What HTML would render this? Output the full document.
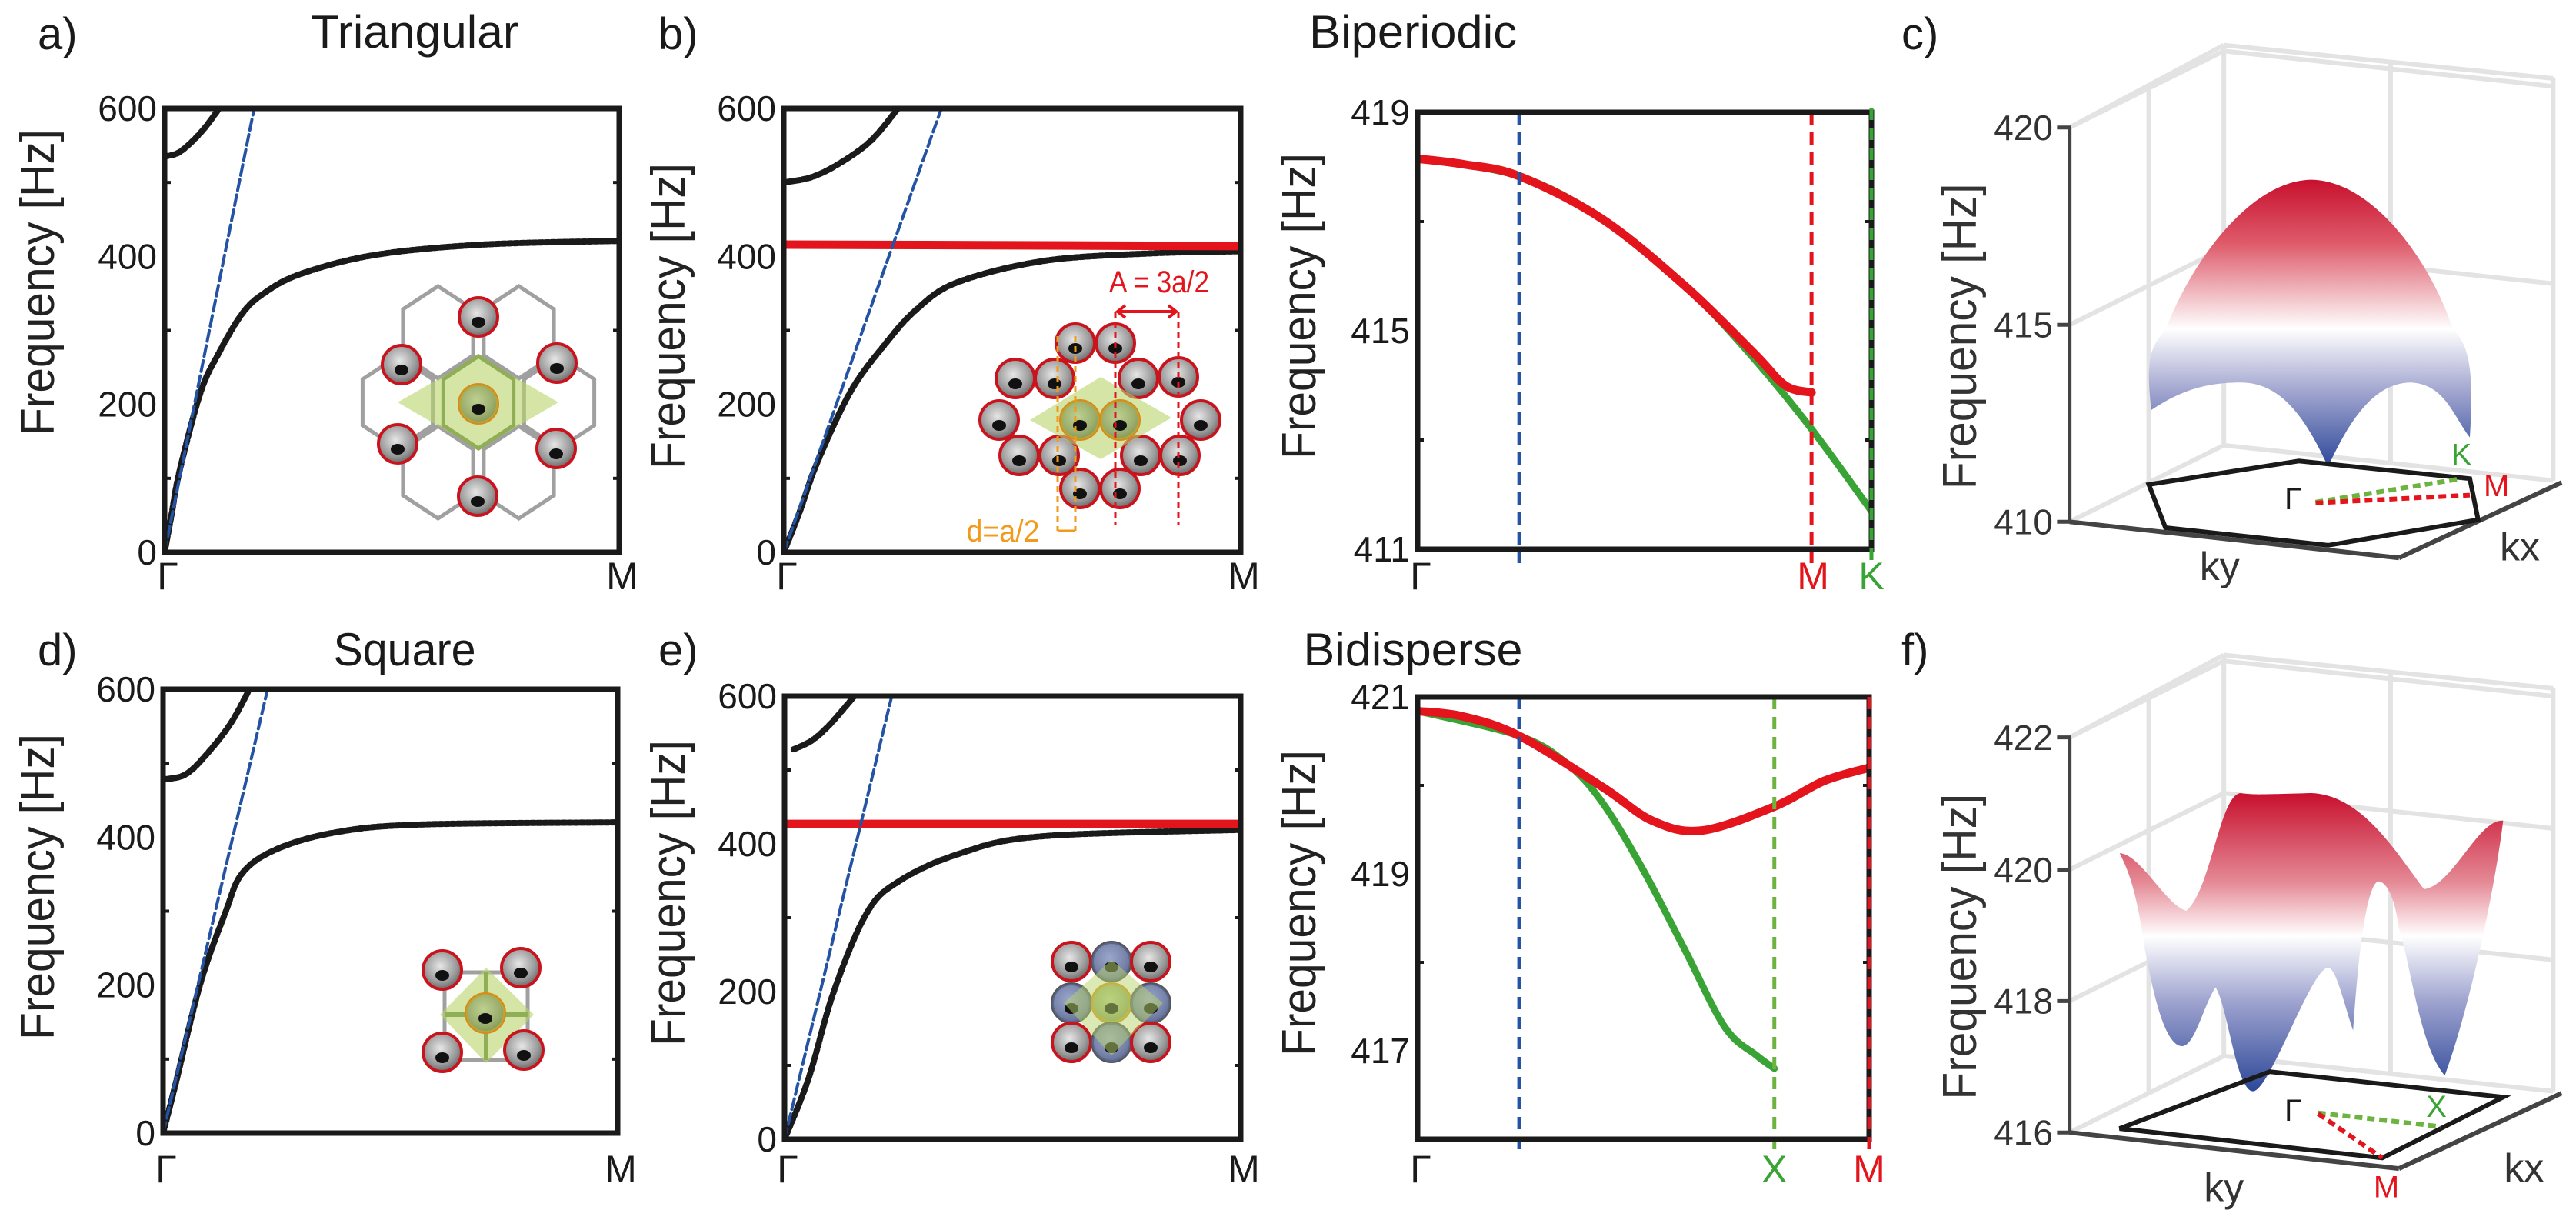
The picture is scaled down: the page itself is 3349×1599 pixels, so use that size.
<!DOCTYPE html>
<html><head><meta charset="utf-8"><style>
html,body{margin:0;padding:0;background:#fff;}
svg{display:block;font-family:"Liberation Sans",sans-serif;}
</style></head><body>
<svg id="fig" width="3349" height="1599" viewBox="0 0 3349 1599" xmlns="http://www.w3.org/2000/svg">
<defs>
<linearGradient id="gradC" gradientUnits="userSpaceOnUse" x1="0" y1="458" x2="0" y2="1190">
<stop offset="0" stop-color="#c8102e"/><stop offset="0.22" stop-color="#de5a6a"/><stop offset="0.42" stop-color="#f3c8cd"/><stop offset="0.52" stop-color="#ffffff"/><stop offset="0.72" stop-color="#a9acd3"/><stop offset="1" stop-color="#2d4899"/></linearGradient>
<linearGradient id="gradF" gradientUnits="userSpaceOnUse" x1="0" y1="455" x2="0" y2="1215">
<stop offset="0" stop-color="#c8102e"/><stop offset="0.3" stop-color="#e58a96"/><stop offset="0.48" stop-color="#ffffff"/><stop offset="0.7" stop-color="#9ea3cf"/><stop offset="1" stop-color="#2d4899"/></linearGradient>
<radialGradient id="can" cx="0.45" cy="0.4" r="0.6"><stop offset="0" stop-color="#e6e6e6"/><stop offset="0.7" stop-color="#9a9a9a"/><stop offset="1" stop-color="#6b6b6b"/></radialGradient>
</defs>
<g id="root"></g>
</svg>
<script>
// ---------- DATA ----------
// panel a (triangular)
const aBand1X = [0, 0.015, 0.033, 0.079, 0.119, 0.17, 0.216, 0.298, 0.463, 0.7, 1];
const aBand1Y = [0, 50, 110, 216, 269, 322, 349, 376, 402, 416, 421];
const aBand2X = [0, 0.03, 0.06, 0.09, 0.12];
const aBand2Y = [535, 540, 555, 575, 600];
const aSoundX = [0, 0.197];
const aSoundY = [0, 600];
// panel b (biperiodic)
const bBand1X = [0, 0.035, 0.073, 0.146, 0.22, 0.29, 0.38, 0.57, 0.8, 1];
const bBand1Y = [0, 55, 121, 217, 280, 328, 365, 394, 404, 407];
const bBand2X = [0, 0.06, 0.12, 0.19, 0.25];
const bBand2Y = [500, 507, 525, 556, 600];
const bFlatX = [0, 0.5, 1];
const bFlatY = [416, 415, 414];
const bSoundX = [0, 0.345];
const bSoundY = [0, 600];
// panel b zoom
const b2RedX = [0, 0.1, 0.224, 0.408, 0.592, 0.74, 0.81, 0.868];
const b2RedY = [418.15, 418.05, 417.83, 417.04, 415.8, 414.6, 414.0, 413.87];
const b2GreenX = [0, 0.224, 0.408, 0.592, 0.74, 0.868, 1];
const b2GreenY = [418.15, 417.83, 417.04, 415.8, 414.5, 413.2, 411.7];
const b2Ticks = [411, 415, 419];
// panel d (square)
const dBand1X = [0, 0.027, 0.082, 0.137, 0.174, 0.247, 0.375, 0.56, 1];
const dBand1Y = [0, 65, 202, 298, 351, 383, 406, 417, 420];
const dBand2X = [0, 0.05, 0.1, 0.15, 0.19];
const dBand2Y = [478, 485, 515, 555, 600];
const dSoundX = [0, 0.23];
const dSoundY = [0, 600];
// panel e (bidisperse)
const eBand1X = [0, 0.053, 0.108, 0.18, 0.25, 0.38, 0.56, 1];
const eBand1Y = [0, 83, 200, 306, 349, 386, 410, 419];
const eBand2X = [0.02, 0.06, 0.1, 0.153];
const eBand2Y = [528, 540, 562, 600];
const eFlatX = [0, 1];
const eFlatY = [427, 427];
const eSoundX = [0, 0.235];
const eSoundY = [0, 600];
// panel e zoom
const e2RedX = [0, 0.1, 0.225, 0.41, 0.52, 0.63, 0.79, 0.9, 1];
const e2RedY = [420.84, 420.78, 420.56, 419.98, 419.6, 419.49, 419.76, 420.05, 420.2];
const e2GreenX = [0, 0.225, 0.33, 0.41, 0.5, 0.59, 0.68, 0.75, 0.79];
const e2GreenY = [420.84, 420.56, 420.25, 419.8, 419.04, 418.16, 417.27, 416.95, 416.8];
const e2Ticks = [417, 419, 421];
const mainTicks = [0, 200, 400, 600];

// ---------- HELPERS ----------
const NS = "http://www.w3.org/2000/svg";
const root = document.getElementById("root");
function mk(tag, attrs, parent) {
  const e = document.createElementNS(NS, tag);
  for (const k in attrs) e.setAttribute(k, attrs[k]);
  (parent || root).appendChild(e);
  return e;
}
function txt(s, x, y, size, attrs, parent) {
  const t = mk("text", Object.assign({x: x, y: y, "font-size": size, fill: "#1a1a1a"}, attrs || {}), parent);
  t.textContent = s;
  return t;
}
function smooth(pts) {
  if (pts.length < 3) return "M" + pts.map(p => p.join(",")).join(" L");
  let d = "M" + pts[0][0] + "," + pts[0][1];
  for (let i = 0; i < pts.length - 1; i++) {
    const p0 = pts[i - 1] || pts[i], p1 = pts[i], p2 = pts[i + 1], p3 = pts[i + 2] || p2;
    const c1 = [p1[0] + (p2[0] - p0[0]) / 6, p1[1] + (p2[1] - p0[1]) / 6];
    const c2 = [p2[0] - (p3[0] - p1[0]) / 6, p2[1] - (p3[1] - p1[1]) / 6];
    d += " C" + c1.join(",") + " " + c2.join(",") + " " + p2.join(",");
  }
  return d;
}
function makeAxes(c) {
  c.sx = v => c.L + v * (c.R - c.L);
  c.sy = v => c.B - (v - c.y0) / (c.y1 - c.y0) * (c.B - c.T);
  const g = mk("g", {});
  
  
  c.g = g;
  const clip = mk("clipPath", {id: "clip-" + c.name}, g);
  mk("rect", {x: c.L, y: c.T - 3, width: c.R - c.L, height: c.B - c.T + 6}, clip);
  c.plot = mk("g", {"clip-path": "url(#clip-" + c.name + ")"}, g);
  return c;
}
function frame(c) {
  const f = mk("rect", {x: c.L, y: c.T, width: c.R - c.L, height: c.B - c.T, fill: "none", stroke: "#1a1a1a", "stroke-width": 7}, c.g);
  
  
  c.ticks.forEach(v => {
    const t = txt(String(v), c.L - 10, c.sy(v) + 16, 46, {"text-anchor": "end"}, c.g);
    
    
  });
  if (c.minor) c.minor.forEach(v => {
    mk("line", {x1: c.L, x2: c.L + 8, y1: c.sy(v), y2: c.sy(v), stroke: "#1a1a1a", "stroke-width": 4}, c.g);
    mk("line", {x1: c.R, x2: c.R - 8, y1: c.sy(v), y2: c.sy(v), stroke: "#1a1a1a", "stroke-width": 4}, c.g);
  });
  const yl = txt("Frequency [Hz]", 0, 0, 62, {"text-anchor": "middle", transform: "translate(" + c.ylx + "," + c.yly + ") rotate(-90)", textLength: 398, lengthAdjust: "spacingAndGlyphs", fill: "#222"}, c.g);
  
  
}
function series(c, xs, ys, color, w, dash, name) {
  const pts = xs.map((x, i) => [c.sx(x), c.sy(ys[i])]);
  const p = mk("path", {d: smooth(pts), fill: "none", stroke: color, "stroke-width": w, "stroke-linecap": "round"}, c.plot);
  if (dash) p.setAttribute("stroke-dasharray", dash);
  
  
  return p;
}
function vline(c, x, color, name) {
  const l = mk("line", {x1: c.sx(x), x2: c.sx(x), y1: c.T, y2: c.B + 18, stroke: color, "stroke-width": 5, "stroke-dasharray": "16,10"}, c.g);
  
  
}
function xlabel(s, x, y, color) {
  const t = txt(s, x, y, 50, {"text-anchor": "middle", fill: color || "#1a1a1a"});
  
  
}

// ---------- MAIN BAND PANELS ----------
function bandPanel(cfg) {
  const c = makeAxes(cfg);
  series(c, cfg.s1x, cfg.s1y, "#1a1a1a", 8, "5,3", "acoustic-band");
  series(c, cfg.s2x, cfg.s2y, "#1a1a1a", 8, "5,3", "upper-band");
  if (cfg.fx) series(c, cfg.fx, cfg.fy, "#e3141c", 11, null, "flat-band");
  series(c, cfg.sdx, cfg.sdy, "#2453a5", 4, "14,6", "sound-line");
  frame(c);
  xlabel("Γ", c.L + 4, cfg.xly);
  xlabel("M", c.R + 4, cfg.xly);
  return c;
}
bandPanel({name: "panel-a-triangular", L: 214, R: 805, T: 141, B: 718, y0: 0, y1: 600, ticks: mainTicks, minor: [100, 300, 500], ylx: 70, yly: 367, xly: 766,
  s1x: aBand1X, s1y: aBand1Y, s2x: aBand2X, s2y: aBand2Y, sdx: aSoundX, sdy: aSoundY});
bandPanel({name: "panel-b-biperiodic", L: 1019, R: 1613, T: 141, B: 718, y0: 0, y1: 600, ticks: mainTicks, minor: [100, 300, 500], ylx: 890, yly: 411, xly: 766,
  s1x: bBand1X, s1y: bBand1Y, s2x: bBand2X, s2y: bBand2Y, fx: bFlatX, fy: bFlatY, sdx: bSoundX, sdy: bSoundY});
bandPanel({name: "panel-d-square", L: 212, R: 803, T: 896, B: 1473, y0: 0, y1: 600, ticks: mainTicks, minor: [100, 300, 500], ylx: 70, yly: 1153, xly: 1537,
  s1x: dBand1X, s1y: dBand1Y, s2x: dBand2X, s2y: dBand2Y, sdx: dSoundX, sdy: dSoundY});
bandPanel({name: "panel-e-bidisperse", L: 1020, R: 1613, T: 905, B: 1481, y0: 0, y1: 600, ticks: mainTicks, minor: [100, 300, 500], ylx: 890, yly: 1161, xly: 1537,
  s1x: eBand1X, s1y: eBand1Y, s2x: eBand2X, s2y: eBand2Y, fx: eFlatX, fy: eFlatY, sdx: eSoundX, sdy: eSoundY});

// ---------- ZOOM PANELS ----------
(function () {
  const c = makeAxes({name: "panel-b-zoom", L: 1843, R: 2433, T: 146, B: 714, y0: 411, y1: 419, ticks: b2Ticks, minor: [413, 417], ylx: 1710, yly: 398});
  vline(c, 0.224, "#2453a5", "blue-marker-line");
  vline(c, 0.868, "#e3141c", "m-marker-line");
  series(c, b2GreenX, b2GreenY, "#3aa335", 9, null, "green-band");
  series(c, b2RedX, b2RedY, "#e3141c", 11, null, "red-band");
  frame(c);
  mk("line", {x1: c.R, x2: c.R, y1: c.T - 6, y2: c.B + 18, stroke: "#3aa335", "stroke-width": 5, "stroke-dasharray": "16,10"});
  xlabel("Γ", c.L + 4, 766);
  xlabel("M", c.sx(0.868) + 2, 766, "#e3141c");
  xlabel("K", c.R, 766, "#3aa335");
})();
(function () {
  const c = makeAxes({name: "panel-e-zoom", L: 1843, R: 2430, T: 906, B: 1481, y0: 416, y1: 421, ticks: e2Ticks, minor: [418, 420], ylx: 1710, yly: 1174});
  vline(c, 0.225, "#2453a5", "blue-marker-line");
  vline(c, 0.79, "#6db33f", "x-marker-line");
  series(c, e2GreenX, e2GreenY, "#3aa335", 9, null, "green-band");
  series(c, e2RedX, e2RedY, "#e3141c", 11, null, "red-band");
  frame(c);
  mk("line", {x1: c.R, x2: c.R, y1: c.T, y2: c.B + 18, stroke: "#e3141c", "stroke-width": 5, "stroke-dasharray": "16,10"});
  xlabel("Γ", c.L + 4, 1537);
  xlabel("X", c.sx(0.79), 1537, "#3aa335");
  xlabel("M", c.R, 1537, "#e3141c");
})();

// ---------- TITLES ----------
[["a)", 49, 64, "panel-label-a"], ["b)", 856, 64, "panel-label-b"], ["c)", 2472, 64, "panel-label-c"],
 ["d)", 49, 865, "panel-label-d"], ["e)", 856, 865, "panel-label-e"], ["f)", 2472, 865, "panel-label-f"]].forEach(a => {
  const t = txt(a[0], a[1], a[2], 58, {});
  
  
});
[["Triangular", 539, 62, 270, "title-triangular"], ["Biperiodic", 1837, 62, 270, "title-biperiodic"],
 ["Square", 526, 865, 185, "title-square"], ["Bidisperse", 1837, 865, 285, "title-bidisperse"]].forEach(a => {
  const t = txt(a[0], a[1], a[2], 60, {"text-anchor": "middle", textLength: a[3], lengthAdjust: "spacingAndGlyphs"});
  
  
});

// ---------- INSETS ----------
function can(x, y, parent, rim, fillTint) {
  const g = mk("g", {}, parent);
  
  
  mk("circle", {cx: x, cy: y, r: 25, fill: "url(#can)", stroke: rim, "stroke-width": 4}, g);
  if (fillTint) mk("circle", {cx: x, cy: y, r: 25, fill: fillTint, "fill-opacity": 0.55}, g);
  mk("ellipse", {cx: x, cy: y + 7, rx: 9, ry: 7, fill: "#111"}, g);
}
function hexPts(cx, cy, R) {
  const p = [];
  for (let i = 0; i < 6; i++) { const a = Math.PI / 180 * (60 * i - 90); p.push((cx + R * 0.877 * Math.cos(a)).toFixed(1) + "," + (cy + R * Math.sin(a)).toFixed(1)); }
  return p.join(" ");
}
(function () {
  const g = mk("g", {});
  
  
  [[622, 523], [727, 523], [517, 523], [674.5, 432], [569.5, 432], [674.5, 614], [569.5, 614]].forEach(h =>
    mk("polygon", {points: hexPts(h[0], h[1], 60), fill: "none", stroke: "#a0a0a0", "stroke-width": 5}, g));
  mk("polygon", {points: "517,523 622,463 726,523 622,584", fill: "#b8d36b", "fill-opacity": 0.6}, g);
  mk("polygon", {points: hexPts(622, 523, 60), fill: "none", stroke: "#8fae55", "stroke-width": 5}, g);
  [[622, 412], [522, 474], [724, 472], [517, 577], [723, 583], [621, 645]].forEach(p => can(p[0], p[1], g, "#c9141e"));
  can(622, 525, g, "#d98a1c", "#9cc04a");
})();
(function () {
  const g = mk("g", {});
  
  
  [[1398, 446], [1450, 446], [1320, 492], [1371, 492], [1480, 492], [1532, 490], [1299, 546], [1561, 546], [1325, 592], [1377, 592], [1483, 592], [1534, 592], [1404, 635], [1456, 635]].forEach(p => can(p[0], p[1], g, "#c9141e"));
  mk("polygon", {points: "1339,546 1431,490 1523,543 1431,597", fill: "#b8d36b", "fill-opacity": 0.6}, g);
  can(1404, 546, g, "#d98a1c", "#9cc04a");
  can(1456, 546, g, "#d98a1c", "#9cc04a");
  [1375, 1398].forEach(x => mk("line", {x1: x, x2: x, y1: 437, y2: 690, stroke: "#f29a1c", "stroke-width": 3, "stroke-dasharray": "8,5"}, g));
  [1450, 1532].forEach(x => mk("line", {x1: x, x2: x, y1: 405, y2: 682, stroke: "#e3141c", "stroke-width": 3, "stroke-dasharray": "8,5"}, g));
  mk("path", {d: "M1455,405 L1527,405 M1463,397 L1453,405 L1463,413 M1519,397 L1529,405 L1519,413", stroke: "#e3141c", "stroke-width": 4, fill: "none"}, g);
  const t1 = txt("A = 3a/2", 1507, 380, 40, {"text-anchor": "middle", fill: "#e3141c", textLength: 130, lengthAdjust: "spacingAndGlyphs"}, g);
  
  
  const t2 = txt("d=a/2", 1304, 704, 40, {"text-anchor": "middle", fill: "#f29a1c", textLength: 95, lengthAdjust: "spacingAndGlyphs"}, g);
  
  
  mk("path", {d: "M1376,690 L1397,690", stroke: "#f29a1c", "stroke-width": 3}, g);
})();
(function () {
  const g = mk("g", {});
  
  
  mk("rect", {x: 578, y: 1264, width: 108, height: 114, fill: "none", stroke: "#a0a0a0", "stroke-width": 5}, g);
  mk("polygon", {points: "632,1258 694,1319 632,1382 572,1319", fill: "#b8d36b", "fill-opacity": 0.6}, g);
  mk("line", {x1: 578, x2: 686, y1: 1319, y2: 1319, stroke: "#8fae55", "stroke-width": 6}, g);
  mk("line", {x1: 632, x2: 632, y1: 1264, y2: 1378, stroke: "#8fae55", "stroke-width": 6}, g);
  [[575, 1261], [677, 1258], [575, 1368], [681, 1365]].forEach(p => can(p[0], p[1], g, "#c9141e"));
  can(631, 1317, g, "#d98a1c", "#9cc04a");
})();
(function () {
  const g = mk("g", {});
  
  
  const xs = [1393, 1445, 1496], ys = [1250, 1304, 1355];
  ys.forEach((y, j) => xs.forEach((x, i) => {
    const corner = (i !== 1 && j !== 1), centre = (i === 1 && j === 1);
    if (corner) can(x, y, g, "#c9141e");
    else if (centre) can(x, y, g, "#d98a1c", "#9cc04a");
    else can(x, y, g, "#555", "#5c72b8");
  }));
  mk("polygon", {points: "1445,1248 1512,1304 1445,1372 1383,1304", fill: "#b8d36b", "fill-opacity": 0.5}, g);
})();

// ---------- 3D PANELS (drawn in local coords mapped from reference crop) ----------
function panel3d(oy, name, gradId, surfD, ticks, tickY, floorPts, labels, dashes) {
  const g = mk("g", {transform: "translate(1650," + oy + ") scale(1.084,0.51)"});
  
  
  const grid = "#e3e3e3";
  const L = (x1, y1, x2, y2, col, w, dash) => {
    const l = mk("line", {x1: x1, y1: y1, x2: x2, y2: y2, stroke: col, "stroke-width": w, "vector-effect": "non-scaling-stroke"}, g);
    if (dash) l.setAttribute("stroke-dasharray", dash);
    return l;
  };
  const topY = tickY[0] - 15;
  L(960, tickY[0], 1145, topY - 195, grid, 6); L(1145, topY - 195, 1540, topY - 110, grid, 6);
  L(1145, topY - 195, 1145, tickY[tickY.length - 1] - 195, grid, 6);
  L(1345, topY - 150, 1345, tickY[tickY.length - 1] - 150, grid, 6);
  L(1540, topY - 110, 1540, tickY[tickY.length - 1] - 105, grid, 6);
  L(1055, tickY[0] - 100, 1055, tickY[tickY.length - 1] - 100, grid, 6);
  tickY.forEach(y => { L(960, y, 1145, y - 195, grid, 6); L(1145, y - 195, 1540, y - 105, grid, 6); });
  mk("path", {d: surfD, fill: "url(#" + gradId + ")"}, g);
  const last = tickY[tickY.length - 1];
  L(960, tickY[0], 960, last, "#444", 5);
  L(960, last, 1355, last + 92, "#444", 6); L(1355, last + 92, 1550, last - 100, "#444", 6);
  tickY.forEach((y, i) => {
    L(945, y, 962, y, "#444", 5);
    const t = mk("text", {x: 0, y: 0, "font-size": 46, fill: "#333", "text-anchor": "end", transform: "translate(940," + (y + 32) + ") scale(0.9225,1.96)"}, g);
    t.textContent = String(ticks[i]);
    
    
  });
  mk("polygon", {points: floorPts, fill: "none", stroke: "#1a1a1a", "stroke-width": 6, "vector-effect": "non-scaling-stroke"}, g);
  dashes.forEach(d => L(d[0], d[1], d[2], d[3], d[4], 6, "10,6"));
  labels.forEach(lb => {
    const t = mk("text", {x: 0, y: 0, "font-size": lb[3], fill: lb[4], "text-anchor": "middle", transform: "translate(" + lb[1] + "," + lb[2] + ") scale(0.9225,1.96)"}, g);
    t.textContent = lb[0];
    
    
  });
  const yl = mk("text", {x: 0, y: 0, "font-size": 62, fill: "#333", "text-anchor": "middle", textLength: 398, lengthAdjust: "spacingAndGlyphs", transform: "translate(848," + ((tickY[0] + last) / 2 + 30) + ") scale(0.9225,1.96) rotate(-90)"}, g);
  yl.textContent = "Frequency [Hz]";
  
  
}
panel3d(0, "panel-c-3d-surface", "gradC",
  "M1058,1045 C1050,900 1060,880 1075,840 C1110,650 1180,460 1250,458 C1320,460 1390,650 1420,840 C1440,880 1445,950 1440,1115 C1420,1060 1410,980 1370,975 C1330,975 1300,1050 1270,1190 C1240,1050 1210,975 1165,975 C1120,975 1090,1000 1058,1045 Z",
  [420, 415, 410], [325, 828, 1330],
  "1055,1235 1235,1175 1440,1220 1450,1325 1270,1390 1075,1345",
  [["Γ", 1228, 1298, 40, "#1a1a1a"], ["K", 1430, 1185, 40, "#3aa335"], ["M", 1472, 1265, 40, "#e3141c"], ["kx", 1500, 1428, 52, "#333"], ["ky", 1140, 1478, 52, "#333"]],
  [[1255, 1280, 1430, 1220, "#6db33f"], [1255, 1282, 1440, 1262, "#e3141c"]]);
panel3d(799, "panel-f-3d-surface", "gradF",
  "M1020,608 C1045,610 1075,740 1100,755 C1130,700 1140,460 1165,455 C1180,460 1195,458 1250,455 C1310,460 1350,600 1385,700 C1420,690 1450,520 1480,525 C1470,700 1440,1000 1410,1175 C1380,1100 1370,900 1355,800 C1350,720 1340,680 1330,680 C1315,690 1305,900 1300,1060 C1290,1000 1280,900 1270,900 C1250,900 1200,1215 1180,1215 C1160,1215 1150,1000 1135,950 C1120,1000 1110,1100 1095,1100 C1070,1100 1055,900 1050,850 C1040,700 1030,650 1020,608 Z",
  [422, 420, 418, 416], [313, 650, 985, 1320],
  "1020,1310 1200,1165 1480,1230 1335,1385",
  [["Γ", 1228, 1290, 40, "#1a1a1a"], ["X", 1400, 1280, 40, "#3aa335"], ["M", 1340, 1485, 40, "#e3141c"], ["kx", 1505, 1445, 52, "#333"], ["ky", 1145, 1495, 52, "#333"]],
  [[1258, 1270, 1405, 1305, "#6db33f"], [1258, 1272, 1335, 1385, "#e3141c"]]);
</script>
</body></html>
